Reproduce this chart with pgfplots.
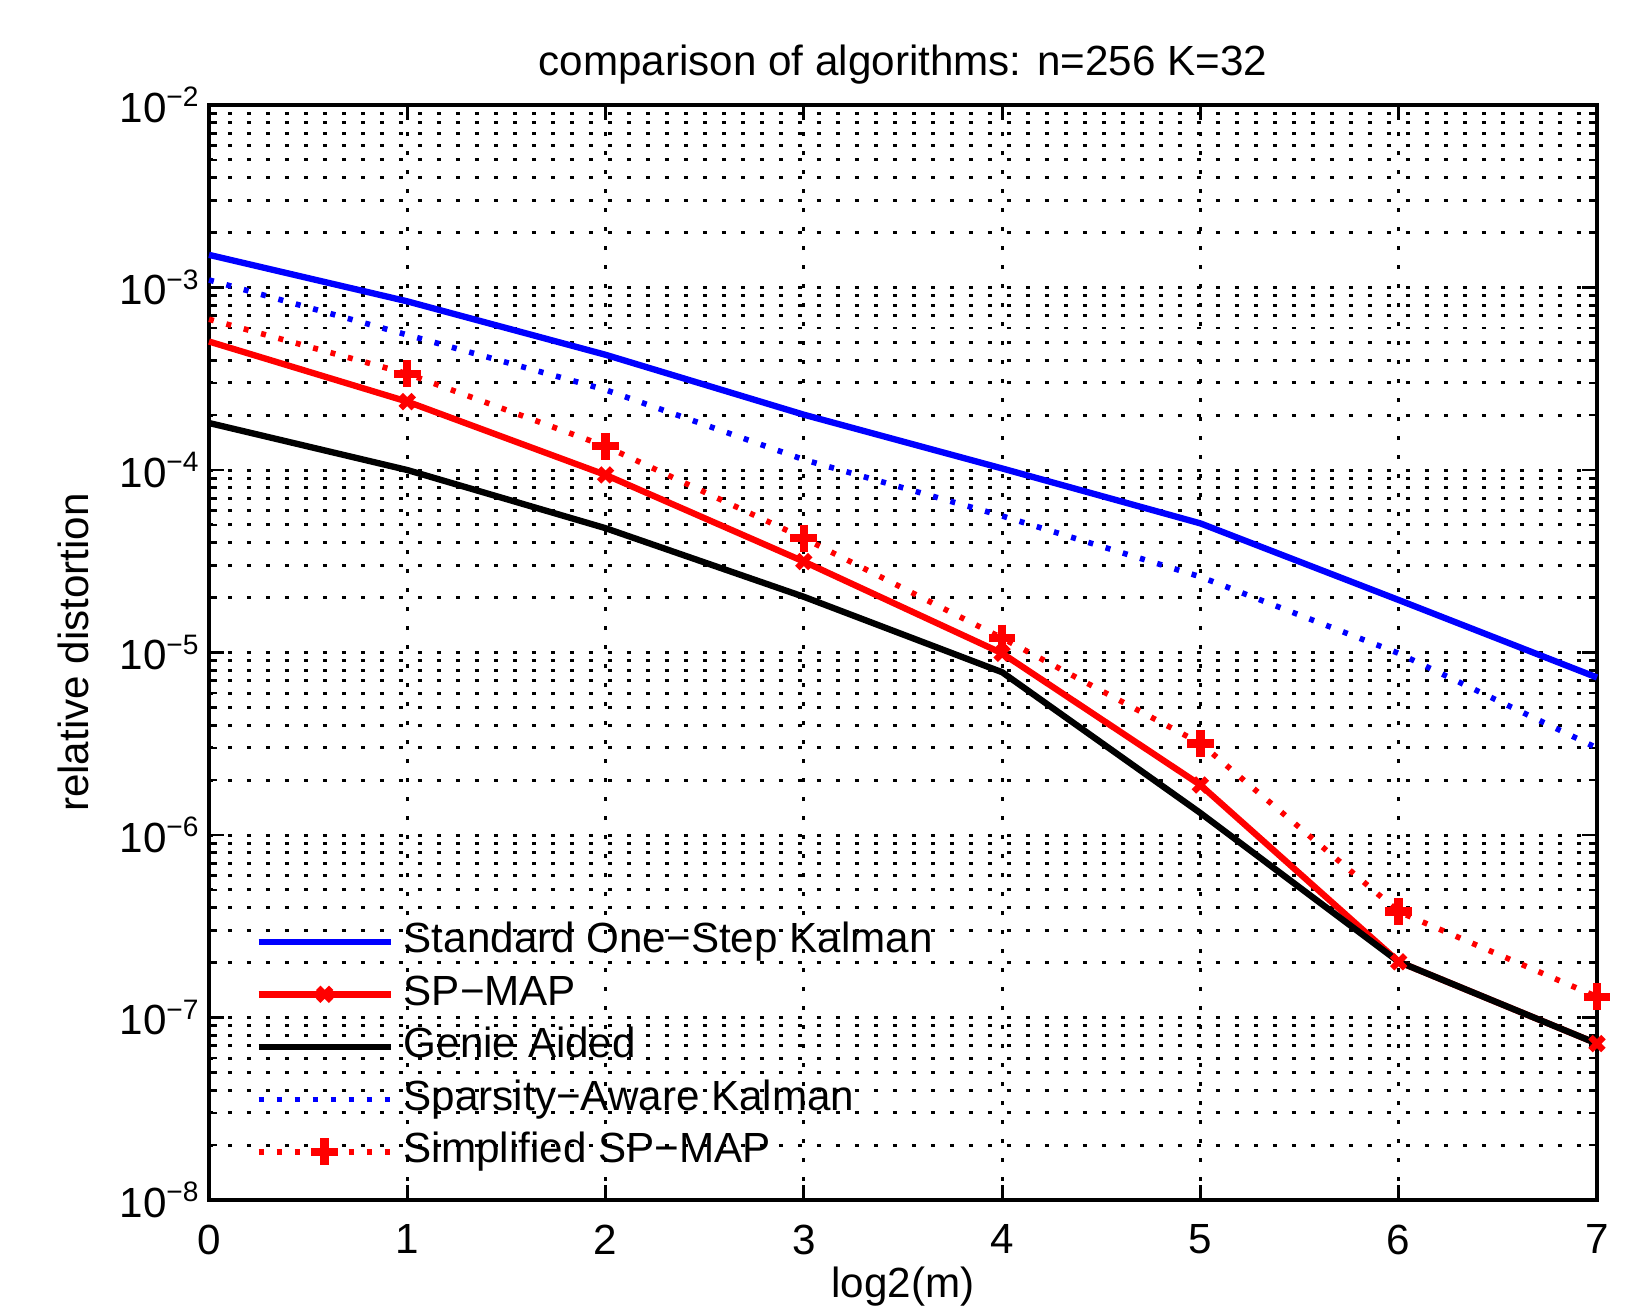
\documentclass[border=0pt]{standalone}
\usepackage{fontspec}
\setmainfont{Liberation Sans}
\usepackage{pgfplots}
\pgfplotsset{compat=1.18}
\begin{document}
\fontsize{12}{14}\selectfont
\begin{tikzpicture}
\useasboundingbox (-2.09cm,-1.07cm) rectangle (14.27cm,12.00cm);
\begin{axis}[
  at={(0,0)}, anchor=south west,
  scale only axis, width=13.88cm, height=10.95cm,
  ymode=log, xmin=0, xmax=7, ymin=1e-8, ymax=1e-2,
  clip=false,
  xtick={0,1,2,3,4,5,6,7},
  ytick={1e-8,1e-7,1e-6,1e-5,1e-4,1e-3,1e-2},
  yticklabels={10\textsuperscript{−8},10\textsuperscript{−7},10\textsuperscript{−6},10\textsuperscript{−5},10\textsuperscript{−4},10\textsuperscript{−3},10\textsuperscript{−2}},
  minor ytick={2e-8,3e-8,4e-8,5e-8,6e-8,7e-8,8e-8,9e-8,
               2e-7,3e-7,4e-7,5e-7,6e-7,7e-7,8e-7,9e-7,
               2e-6,3e-6,4e-6,5e-6,6e-6,7e-6,8e-6,9e-6,
               2e-5,3e-5,4e-5,5e-5,6e-5,7e-5,8e-5,9e-5,
               2e-4,3e-4,4e-4,5e-4,6e-4,7e-4,8e-4,9e-4,
               2e-3,3e-3,4e-3,5e-3,6e-3,7e-3,8e-3,9e-3},
  minor xtick={},
  /pgf/number format/assume math mode=true,
  ticklabel style={font=\fontsize{12}{14}\selectfont},
  xticklabel shift=0.1cm,
  yticklabel style={inner sep=0pt, xshift=-0.08cm},
  tick align=inside, tick pos=both,
  xticklabel pos=bottom, yticklabel pos=left,
  major tick length=0.15cm, minor tick length=0.08cm,
  every tick/.style={black, line width=0.8pt},
  axis line style={black, line width=1pt},
  grid=both,
  major grid style={black, line width=0.85pt, dash pattern=on 0.04cm off 0.15cm},
  minor grid style={black, line width=0.85pt, dash pattern=on 0.04cm off 0.15cm},
  title={comparison of algorithms: n=256 K=32},
  title style={at={(axis description cs:0.5,1)}, anchor=center, yshift=0.19cm, font=\fontsize{12}{14}\selectfont},
  xlabel={log2(m)},
  xlabel style={at={(axis description cs:0.5,0)}, anchor=center, yshift=-0.87cm, font=\fontsize{12}{14}\selectfont},
  ylabel={relative distortion},
  ylabel style={at={(axis description cs:-0.0975,0.5)}, anchor=center, rotate=0, font=\fontsize{12}{14}\selectfont},
  legend cell align=left,
  legend image code/.code={\draw[mark indices={2}] plot coordinates {(0cm,0cm) (0.66cm,0cm) (1.32cm,0cm)};},
  legend style={draw=none, fill=none, at={(axis description cs:0.033,0.026)}, anchor=south west,
    inner sep=0pt, row sep=0.145cm, column sep=0.1cm,
    nodes={inner sep=0pt, text height=0.3cm, text depth=0.08cm},
    font=\fontsize{12}{14}\selectfont},
]
\addplot[blue, line width=1.8pt, mark=none] coordinates {
 (0,1.51e-3) (1,8.4e-4) (2,4.28e-4) (3,2.01e-4) (4,1.02e-4) (5,5.1e-5) (6,1.94e-5) (7,7.3e-6)};
\addlegendentry{Standard One−Step Kalman}
\addplot[red, line width=1.8pt, mark=x, mark size=2.6pt, mark indices={2,3,4,5,6,7,8}, mark options={solid, line width=1.8pt}] coordinates {
 (0,5.06e-4) (1,2.37e-4) (2,9.4e-5) (3,3.15e-5) (4,9.9e-6) (5,1.88e-6) (6,2.02e-7) (7,7.2e-8)};
\addlegendentry{SP−MAP}
\addplot[black, line width=1.8pt, mark=none] coordinates {
 (0,1.81e-4) (1,1.0e-4) (2,4.8e-5) (3,2.02e-5) (4,7.8e-6) (5,1.32e-6) (6,2.02e-7) (7,7.2e-8)};
\addlegendentry{Genie Aided}
\addplot[blue, line width=1.6pt, dash pattern=on 0.05cm off 0.13cm, mark=none] coordinates {
 (0,1.10e-3) (1,5.5e-4) (2,2.75e-4) (3,1.14e-4) (4,5.6e-5) (5,2.6e-5) (6,9.9e-6) (7,3.0e-6)};
\addlegendentry{Sparsity−Aware Kalman}
\addplot[red, line width=1.6pt, dash pattern=on 0.05cm off 0.13cm, mark=+, mark size=3.8pt, mark indices={2,3,4,5,6,7,8}, mark options={solid, line width=2.4pt}] coordinates {
 (0,6.7e-4) (1,3.37e-4) (2,1.35e-4) (3,4.23e-5) (4,1.2e-5) (5,3.18e-6) (6,3.8e-7) (7,1.30e-7)};
\addlegendentry{Simplified SP−MAP}
\end{axis}
\end{tikzpicture}
\end{document}
